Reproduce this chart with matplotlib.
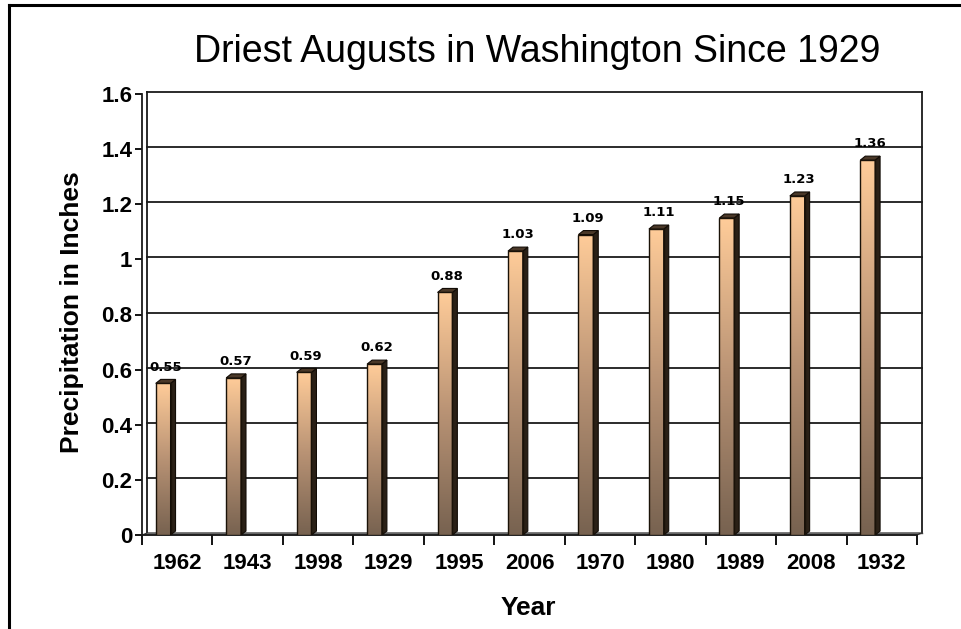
import numpy as np
import matplotlib
matplotlib.use("Agg")
import matplotlib.pyplot as plt
from matplotlib.patches import Polygon
from matplotlib.lines import Line2D
from matplotlib.colors import LinearSegmentedColormap
import matplotlib.transforms as mtransforms

years = ["1962", "1943", "1998", "1929", "1995", "2006", "1970", "1980", "1989", "2008", "1932"]
values = [0.55, 0.57, 0.59, 0.62, 0.88, 1.03, 1.09, 1.11, 1.15, 1.23, 1.36]
value_labels = ["0.55", "0.57", "0.59", "0.62", "0.88", "1.03", "1.09", "1.11", "1.15", "1.23", "1.36"]
yticks = [0, 0.2, 0.4, 0.6, 0.8, 1.0, 1.2, 1.4, 1.6]
ytick_labels = ["0", "0.2", "0.4", "0.6", "0.8", "1", "1.2", "1.4", "1.6"]

W, H = 961, 629
DPI = 100
fig = plt.figure(figsize=(W / DPI, H / DPI), dpi=DPI)
fig.patch.set_facecolor("white")

# figure frame (left and top edges visible)
fig.add_artist(Line2D([9 / W, 9 / W], [0, 1 - 5 / H], transform=fig.transFigure, color="black", lw=2.2))
fig.add_artist(Line2D([9 / W, 1], [1 - 5 / H, 1 - 5 / H], transform=fig.transFigure, color="black", lw=2.2))

left, right, bottom, top = 142, 917, 535, 94
ax = fig.add_axes([left / W, (H - bottom) / H, (right - left) / W, (bottom - top) / H])
ax.set_xlim(-0.5, len(years) - 0.5)
ax.set_ylim(0, 1.6)
ax.set_facecolor("none")

# depth offset (pixels -> inches)
dxp, dyp = 5, 4
wall_back = ax.transData + mtransforms.ScaledTranslation(5 / DPI, 2 / DPI, fig.dpi_scale_trans)

x0, x1 = -0.5, len(years) - 0.5
# gridlines on back wall
for yv in yticks[1:]:
    ax.plot([x0, x1], [yv, yv], color="#1a1a1a", lw=1.3, transform=wall_back, zorder=1, clip_on=False)
# back wall edges
ax.plot([x0, x0], [0, 1.6], color="#1a1a1a", lw=1.3, transform=wall_back, zorder=1, clip_on=False)
ax.plot([x1, x1], [0, 1.6], color="#1a1a1a", lw=1.3, transform=wall_back, zorder=1, clip_on=False)
ax.plot([x0, x1], [0, 0], color="#444444", lw=1.0, transform=wall_back, zorder=1, clip_on=False)

# floor
dx_data = 5 / ((right - left) / len(years))
dy_data = 2 / ((bottom - top) / 1.6)
floor = Polygon([[x0, 0], [x1, 0], [x1 + dx_data, dy_data], [x0 + dx_data, dy_data]],
                closed=True, facecolor="#a8a8a8", edgecolor="#333333", lw=0.8, zorder=1.5, clip_on=False)
ax.add_patch(floor)

cmap = LinearSegmentedColormap.from_list("bar", ["#776250", "#b89274", "#ffcc99"])
grad = np.linspace(0, 1, 256).reshape(-1, 1)

bw = 0.21
off = -0.2
bdx = dxp / ((right - left) / len(years))
bdy = dyp / ((bottom - top) / 1.6)
for i, (v, lab) in enumerate(zip(values, value_labels)):
    xc = i + off
    xl, xr = xc - bw / 2, xc + bw / 2
    ax.imshow(grad, extent=(xl, xr, 0, v), origin="lower", cmap=cmap, aspect="auto",
              interpolation="bilinear", zorder=3)
    ax.add_patch(Polygon([[xl, 0], [xr, 0], [xr, v], [xl, v]], closed=True, fill=False,
                         edgecolor="#1a1208", lw=1.0, zorder=4))
    side = Polygon([[xr, 0], [xr + bdx, bdy], [xr + bdx, v + bdy], [xr, v]], closed=True,
                   facecolor="#2a2016", edgecolor="#120c06", lw=0.8, zorder=3.5)
    ax.add_patch(side)
    topf = Polygon([[xl, v], [xr, v], [xr + bdx, v + bdy], [xl + bdx, v + bdy]], closed=True,
                   facecolor="#4a3828", edgecolor="#120c06", lw=0.8, zorder=3.6)
    ax.add_patch(topf)
    ax.annotate(lab, xy=(xc + 0.03, v), xytext=(0, 7), textcoords="offset points",
                ha="center", va="bottom", fontsize=9.5, fontweight="bold",
                family="DejaVu Sans", color="black", zorder=5)

ax.set_xlim(-0.5, len(years) - 0.5)
ax.set_ylim(0, 1.6)

for s in ["top", "right"]:
    ax.spines[s].set_visible(False)
ax.spines["left"].set_linewidth(1.3)
ax.spines["bottom"].set_linewidth(1.3)
ax.spines["left"].set_color("#1a1a1a")
ax.spines["bottom"].set_color("#1a1a1a")

ax.set_yticks(yticks)
ax.set_yticklabels(ytick_labels, fontsize=16, fontweight="bold", family="Liberation Sans")
ax.set_xticks(np.arange(len(years)))
ax.set_xticklabels(years, fontsize=16, fontweight="bold", family="Liberation Sans")
ax.set_xticks(np.arange(len(years) + 1) - 0.5, minor=True)
ax.tick_params(axis="x", which="major", length=0, pad=13)
ax.tick_params(axis="x", which="minor", length=7, width=1.3, direction="out")
ax.tick_params(axis="y", length=5, width=1.3, direction="out", pad=2)

fig.text(537 / W, 1 - 52 / H, "Driest Augusts in Washington Since 1929", ha="center", va="center",
         fontsize=27, family="Liberation Sans")
fig.text(72 / W, 1 - 312 / H, "Precipitation in Inches", ha="center", va="center", rotation=90,
         fontsize=19, fontweight="bold", family="Liberation Sans")
fig.text(528 / W, 1 - 608 / H, "Year", ha="center", va="center",
         fontsize=19, fontweight="bold", family="Liberation Sans")

fig.savefig("out.png", dpi=DPI, facecolor="white")
